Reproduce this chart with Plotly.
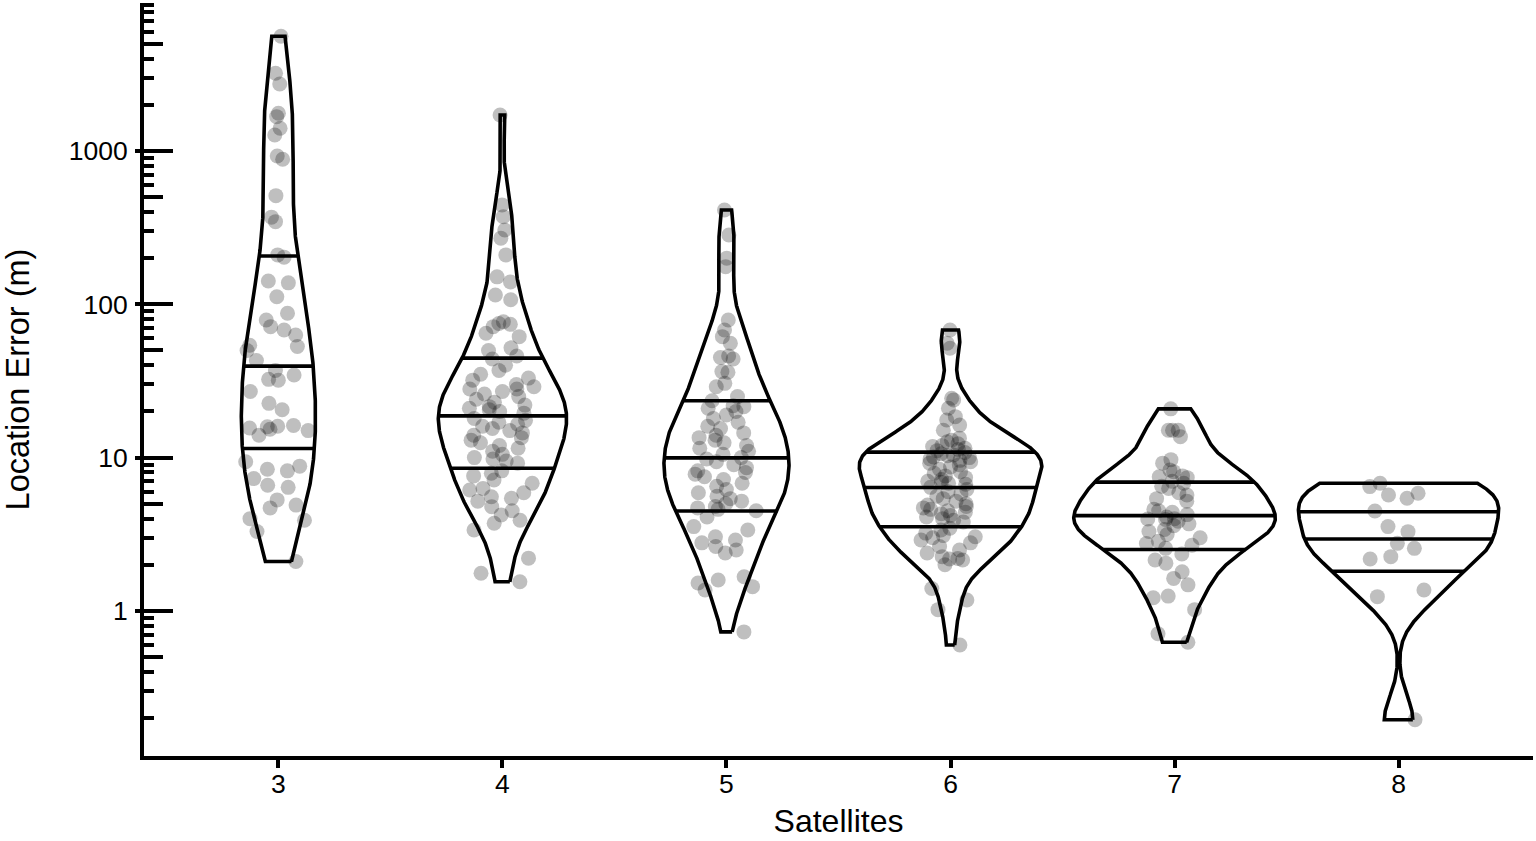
import numpy as np
import plotly.graph_objects as go

# ---------------- data ----------------
satellites = [3, 4, 5, 6, 7, 8]

error_sat3 = [5600, 3210, 2735, 1762, 1674, 1406, 1270, 927, 883, 511, 370, 346,
              210, 203, 142, 138, 112, 87.5, 79, 71.5, 68, 63, 54, 53, 50, 43, 37,
              34.6, 32.4, 32, 27, 22.6, 20.5, 16.2, 16.0, 15.9, 15.6, 15.3, 15.0, 14,
              9.4, 8.8, 8.4, 8.2, 7.3, 6.6, 6.4, 5.3, 4.9, 4.7, 4.0, 3.9, 3.3, 2.1]

error_sat4 = [1718, 445, 373, 305, 270, 210, 151, 140, 115, 107, 77, 75, 74, 71.5,
              64.7, 61.5, 52, 50, 46, 44,
              40, 37, 35, 33, 32, 30, 29, 28, 28, 27, 26, 25, 24, 23, 22, 21.5, 21,
              20.5, 20, 19.5,
              18, 17.5, 17, 16.5, 16, 15.5, 15, 14.5, 14, 13.5, 13, 12.5, 12, 11.5,
              11, 10.5, 10, 9.8, 9.5, 9.2,
              8.2, 7.9, 7.6, 7.15, 6.8, 6.3, 6.15, 5.9, 5.56, 5.43, 5.2, 4.79, 4.5,
              4.23, 3.9, 3.73, 3.37, 2.21, 1.76, 1.55]

error_sat5 = [412, 283, 200, 176, 79, 68, 61.5, 55.7, 46, 45, 44, 36.4, 36, 30.5, 29,
              25, 23.5, 21.8, 21.5,
              21, 20, 19, 18, 17, 16, 15.5, 14.5, 14, 13.5, 13, 12.5, 12, 11.5, 11,
              10.5, 10, 9.8,
              9.4, 9.0, 8.6, 8.2, 8.0, 7.8, 7.5, 7.2, 6.8, 6.5, 6.2, 5.9, 5.6, 5.4,
              5.2, 5.0, 4.8,
              4.7, 4.6, 4.5, 4.1, 3.55, 3.37, 3.05, 2.9, 2.78, 2.63, 2.5, 2.39,
              1.67, 1.59, 1.52, 1.44, 1.37, 0.73]

error_sat6 = [68, 55.7, 51.7, 24.4, 23.8, 21, 18.5, 17.6, 16.3, 15.1, 13.4, 13, 12.7,
              12.3, 12, 11.8, 11.5, 11.3, 11.1,
              10.8, 10.6, 10.4, 10.3, 10.1, 10, 9.8, 9.6, 9.4, 9.2, 9.0, 8.7, 8.4,
              8.1, 7.9, 7.6, 7.4, 7.2, 7.0, 6.9, 6.8, 6.7,
              6.4, 6.2, 6.0, 5.8, 5.6, 5.4, 5.2, 5.0, 4.9, 4.8, 4.7, 4.6, 4.5, 4.4,
              4.3, 4.2, 4.1, 4.0, 3.9, 3.8,
              3.46, 3.37, 3.22, 3.1, 3.05, 3.0, 2.9, 2.78, 2.63, 2.5, 2.39, 2.26,
              2.2, 2.18, 2.15, 2.0, 1.4, 1.18, 1.02, 0.6]

error_sat7 = [20.8, 15.1, 15.1, 15.1, 13.7, 9.7, 9.2, 8.3, 8.1, 7.6, 7.5, 7.4, 7.0, 6.8,
              6.5, 6.3, 5.9, 5.7, 5.4, 5.2, 4.6, 4.5, 4.4, 4.25, 4.1, 4.0, 3.98,
              3.95, 3.85, 3.7, 3.6, 3.4, 3.3, 3.15, 3.0, 2.85, 2.75, 2.68, 2.56,
              2.35, 2.15, 2.05, 1.8, 1.63, 1.48, 1.25, 1.22, 1.02, 0.71, 0.625]

error_sat8 = [6.8, 6.47, 5.86, 5.7, 5.43, 4.49, 3.55, 3.29, 2.76, 2.56, 2.26, 2.18,
              1.37, 1.24, 0.195]

groups = [error_sat3, error_sat4, error_sat5, error_sat6, error_sat7, error_sat8]

major_ticks = [1, 10, 100, 1000]
mid_ticks = [0.5, 5, 50, 500, 5000]
minor_ticks = [m * 10.0 ** e for e in range(-1, 4) for m in (2, 3, 4, 6, 7, 8, 9)]

# ---------------- violin statistics (ggplot-like, in log10 space) ----------------
def bw_nrd0(x):
    x = np.asarray(x, float)
    sd = np.std(x, ddof=1)
    q75, q25 = np.percentile(x, [75, 25])
    lo = min(sd, (q75 - q25) / 1.34)
    if lo <= 0:
        lo = sd if sd > 0 else 1.0
    return 0.9 * lo * len(x) ** (-0.2)

stats = []
for vals in groups:
    lv = np.log10(np.asarray(vals, float))
    bw = bw_nrd0(lv)
    grid = np.linspace(lv.min(), lv.max(), 512)
    dens = np.exp(-0.5 * ((grid[:, None] - lv[None, :]) / bw) ** 2).sum(1) / (len(lv) * bw * np.sqrt(2 * np.pi))
    stats.append((grid, dens))

max_dens = max(d.max() for _, d in stats)
half_width = 0.45

fig = go.Figure()
line_style = dict(color="black", width=3.6)

for pos, (grid, dens) in zip(satellites, stats):
    hw = half_width * dens / max_dens
    xs = np.concatenate([pos + hw, (pos - hw)[::-1], [pos + hw[0]]])
    ys = np.concatenate([grid, grid[::-1], [grid[0]]])
    fig.add_trace(go.Scatter(x=xs, y=10 ** ys, mode="lines", line=line_style,
                             hoverinfo="skip", showlegend=False))
    cdf = np.cumsum(dens) / dens.sum()
    qy = np.interp([0.25, 0.5, 0.75], cdf, grid)
    qhw = np.interp(qy, grid, hw)
    qx, qyy = [], []
    for y_, w_ in zip(qy, qhw):
        qx += [pos - w_, pos + w_, None]
        qyy += [10 ** y_, 10 ** y_, None]
    fig.add_trace(go.Scatter(x=qx, y=qyy, mode="lines", line=line_style,
                             hoverinfo="skip", showlegend=False))

for pos, vals in zip(satellites, groups):
    fig.add_trace(go.Box(x=[pos] * len(vals), y=vals, boxpoints="all", jitter=1,
                         pointpos=0, width=0.3, fillcolor="rgba(0,0,0,0)",
                         line=dict(width=0, color="rgba(0,0,0,0)"),
                         marker=dict(color="rgba(0,0,0,0.25)", size=15, line=dict(width=0)),
                         showlegend=False))

# empty traces to anchor the extra tick axes
for ax in ("y2", "y3"):
    fig.add_trace(go.Scatter(x=[], y=[], yaxis=ax, showlegend=False))

yrange = [-0.946, 3.965]
font_family = "Liberation Sans, Arial, sans-serif"

fig.update_layout(
    width=1536, height=841,
    margin=dict(l=144, r=3, t=3, b=85),
    paper_bgcolor="white", plot_bgcolor="white",
    font=dict(family=font_family, color="black"),
    showlegend=False,
    xaxis=dict(range=[2.4, 8.6], tickmode="array", tickvals=satellites,
               ticktext=[str(s) for s in satellites],
               ticks="outside", ticklen=8, tickwidth=3.5, tickcolor="black",
               showline=True, linewidth=4, linecolor="black",
               showgrid=False, zeroline=False, ticklabelstandoff=-7,
               tickfont=dict(size=26.5),
               title=dict(text="Satellites", font=dict(size=32), standoff=13)),
    yaxis=dict(type="log", range=yrange, tickmode="array", tickvals=major_ticks,
               ticktext=[str(t) for t in major_ticks],
               ticks="inside", ticklen=29, tickwidth=3.5, tickcolor="black",
               showline=True, linewidth=4, linecolor="black",
               showgrid=False, zeroline=False, ticklabelstandoff=7,
               tickfont=dict(size=26.5),
               minor=dict(ticks="inside", ticklen=10, tickwidth=3.5, tickcolor="black",
                          tickmode="array", tickvals=minor_ticks, showgrid=False),
               title=dict(text="Location Error (m)", font=dict(size=32.5), standoff=30)),
    yaxis2=dict(type="log", range=yrange, overlaying="y", anchor="x", side="left",
                tickmode="array", tickvals=major_ticks, ticks="outside", ticklen=8,
                tickwidth=3.5, tickcolor="black", showticklabels=False,
                showline=False, showgrid=False, zeroline=False),
    yaxis3=dict(type="log", range=yrange, overlaying="y", anchor="x", side="left",
                tickmode="array", tickvals=mid_ticks, ticks="inside", ticklen=19,
                tickwidth=3.5, tickcolor="black", showticklabels=False,
                showline=False, showgrid=False, zeroline=False),
)

fig.write_html("out.html", config={"displayModeBar": False},
               post_script="document.body.style.margin='0';")
